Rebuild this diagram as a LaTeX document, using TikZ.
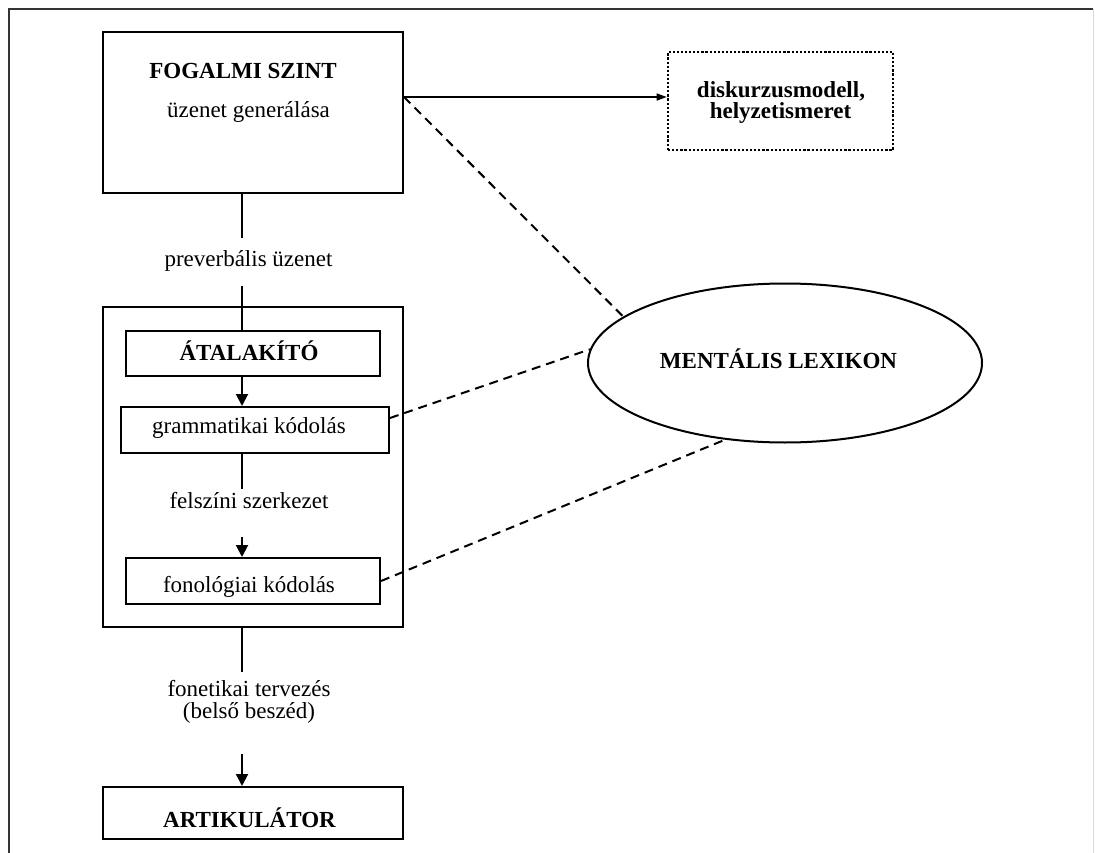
\documentclass[tikz,border=0pt]{standalone}
\usepackage{fontspec}
\setmainfont{Liberation Serif}
\usetikzlibrary{shapes.geometric,arrows.meta,calc}
\begin{document}
\begin{tikzpicture}[x=1pt,y=-1pt,
  box/.style={draw, line width=2pt, inner sep=0pt, rectangle},
  dotbox/.style={draw, line width=2.6pt, dash pattern=on 2.2pt off 1.9pt, inner sep=0pt, rectangle},
  txt/.style={anchor=base, inner sep=0pt, font=\fontsize{23}{22}\selectfont},
  btxt/.style={anchor=base, inner sep=0pt, font=\fontsize{23}{22}\selectfont\bfseries},
  ln/.style={line width=2pt},
  arr/.style={line width=2pt, -{Triangle[length=12pt,width=12pt]}},
  sarr/.style={line width=1.4pt, -{Triangle[length=10pt,width=7pt]}},
  dsh/.style={line width=2pt, dash pattern=on 9pt off 6pt},
]
\useasboundingbox (0,0) rectangle (1095,853);
\fill[white] (0,0) rectangle (1095,853);
% outer frame
\draw[line width=2pt, black!80] (9,853) -- (9,9) -- (1093,9);
\draw[line width=1pt, black!15] (1093,9) -- (1093,853);

% boxes
\node[box, minimum width=300, minimum height=161] (fog) at (253,112.5) {};
\node[box, minimum width=300, minimum height=320] (frame) at (253,467) {};
\node[box, minimum width=254, minimum height=45] (atal) at (253,353.5) {};
\node[box, minimum width=268, minimum height=46] (gram) at (255,430) {};
\node[box, minimum width=254, minimum height=46] (fono) at (253,581) {};
\node[box, minimum width=300, minimum height=52] (art) at (253,813) {};
\node[dotbox, minimum width=225, minimum height=98] (dis) at (780.5,101) {};
\node[draw, ellipse, line width=2pt, inner sep=0pt, minimum width=394, minimum height=159] (lex) at (785,363) {};

% texts
\node[btxt] (fogt) at (243,79) {FOGALMI SZINT};
\node[txt] (fogs) at (248.5,118) {üzenet generálása};
\node[txt] (pre) at (248.5,266) {preverbális üzenet};
\node[btxt] (atalt) at (249,360) {ÁTALAKÍTÓ};
\node[txt] (gramt) at (249,433) {grammatikai kódolás};
\node[txt] (felt) at (249,508) {felszíni szerkezet};
\node[txt] (fonot) at (249,592) {fonológiai kódolás};
\node[txt] (fon1) at (249,696) {fonetikai tervezés};
\node[txt] (fon2) at (249,718) {(belső beszéd)};
\node[btxt] (artt) at (249.5,827) {ARTIKULÁTOR};
\node[btxt] (lext) at (778.5,368) {MENTÁLIS LEXIKON};
\node[btxt] (dis1) at (781,98) {diskurzusmodell,};
\node[btxt] (dis2) at (780.5,119) {helyzetismeret};

% spine connectors
\coordinate (p1) at (242,238);
\coordinate (p2) at (242,286);
\coordinate (f1) at (242,489);
\coordinate (f2) at (242,537);
\coordinate (t1) at (242,672);
\coordinate (t2) at (242,754);
\draw[ln] (fog.south -| p1) -- (p1);
\draw[ln] (p2) -- (atal.north -| p2);
\draw[arr] (atal.south -| p1) -- (gram.north -| p1);
\draw[ln] (gram.south -| p1) -- (f1);
\draw[arr] (f2) -- (fono.north -| f2);
\draw[ln] (frame.south -| p1) -- (t1);
\draw[arr] (t2) -- (art.north -| t2);

% arrow to discourse model
\coordinate (a0) at ($(fog.north east)!0.405!(fog.south east)$);
\draw[sarr] (a0) -- (dis.west |- a0);

% dashed links to mental lexicon
\draw[dsh] (a0) -- (lex.164);
\draw[dsh] ($(gram.north east)!0.25!(gram.south east)$) -- (lex.176);
\draw[dsh] (fono.east) -- (lex.232);
\end{tikzpicture}
\end{document}
